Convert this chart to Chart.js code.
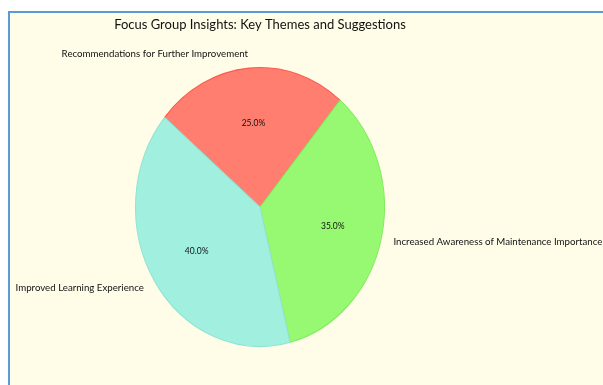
<!DOCTYPE html>
<html>
<head>
<meta charset="utf-8">
<script src="https://cdn.jsdelivr.net/npm/chart.js@4"></script>
<style>
  html, body { margin: 0; padding: 0; background: #ffffff; }
  body { width: 603px; height: 385px; position: relative; overflow: hidden; }
  #frame {
    position: absolute; left: 8px; top: 11px; right: 0; bottom: 0;
    border-top: 2px solid #5b9bd5; border-left: 2px solid #5b9bd5;
    background: #fffde8;
  }
  #pie { display: block; }
</style>
</head>
<body>
<div id="frame"><canvas id="pie" width="593" height="372"></canvas></div>
<script>
const chartTitle = 'Focus Group Insights: Key Themes and Suggestions';
// slices listed clockwise from the upper-left boundary
const themes = [
  'Recommendations for Further Improvement',
  'Increased Awareness of Maintenance Importance',
  'Improved Learning Experience'
];
const shares = [25, 35, 40];
const fills = ['#ff7e70', '#97f972', '#a1efdf'];
const edges = ['#ff5a4a', '#80ec5e', '#8fe4d3'];

// pie is stretched vertically into an ellipse
const stretchY = 1.12;

const ellipse = {
  id: 'ellipse',
  beforeDatasetsDraw(chart) {
    const arc = chart.getDatasetMeta(0).data[0];
    const ctx = chart.ctx;
    ctx.save();
    ctx.translate(arc.x, arc.y);
    ctx.scale(1, stretchY);
    ctx.translate(-arc.x, -arc.y);
  },
  afterDatasetsDraw(chart) {
    chart.ctx.restore();
  }
};

const sliceLabels = {
  id: 'sliceLabels',
  afterDraw(chart) {
    const ctx = chart.ctx;
    const meta = chart.getDatasetMeta(0);
    const total = shares.reduce((a, b) => a + b, 0);

    // title centred over the pie, above the top of the ellipse
    const first = meta.data[0];
    ctx.save();
    ctx.font = '13px Lato';
    ctx.fillStyle = '#111111';
    ctx.textAlign = 'center';
    ctx.textBaseline = 'middle';
    ctx.fillText(chartTitle, first.x, first.y - first.outerRadius * stretchY - 43);
    ctx.restore();

    meta.data.forEach((arc, i) => {
      const mid = (arc.startAngle + arc.endAngle) / 2;
      const rx = arc.outerRadius, ry = arc.outerRadius * stretchY;
      const c = Math.cos(mid), s = Math.sin(mid);
      ctx.save();
      ctx.textBaseline = 'middle';
      // percentage inside the slice
      ctx.font = '8.5px Lato';
      ctx.fillStyle = '#111111';
      ctx.textAlign = 'center';
      ctx.fillText((shares[i] / total * 100).toFixed(1) + '%', arc.x + rx * 0.6 * c, arc.y + ry * 0.6 * s);
      // category name outside
      ctx.font = '9.7px Lato';
      ctx.textAlign = c >= 0 ? 'left' : 'right';
      ctx.fillText(themes[i], arc.x + rx * 1.1 * c, arc.y + ry * 1.1 * s);
      ctx.restore();
    });
  }
};

new Chart(document.getElementById('pie'), {
  type: 'pie',
  data: {
    labels: themes,
    datasets: [{
      data: shares,
      backgroundColor: fills,
      borderColor: edges,
      borderWidth: 1,
      clip: false
    }]
  },
  options: {
    responsive: false,
    animation: false,
    rotation: -50,
    layout: { padding: { left: 125, right: 218, top: 54, bottom: 38 } },
    plugins: {
      legend: { display: false },
      tooltip: { enabled: false },
      title: { display: false }
    }
  },
  plugins: [ellipse, sliceLabels]
});
</script>
</body>
</html>
